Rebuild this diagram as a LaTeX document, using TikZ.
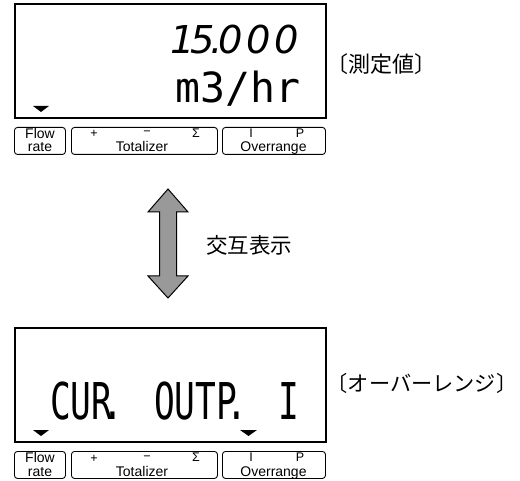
\documentclass[tikz,border=0pt]{standalone}
\usepackage{fontspec}
\setmainfont{Liberation Sans}
\newfontfamily\cjk{Noto Sans CJK JP}
\newfontfamily\lcd{DejaVu Sans Mono}
\newfontfamily\lcdsans{DejaVu Sans}
\tikzset{
  lcdbox/.style={draw, line width=1.8pt, inner sep=0pt, anchor=north west},
  btn/.style={draw, line width=0.9pt, rounded corners=3pt, inner sep=0pt, anchor=north west, minimum height=27pt},
  btnlabel/.style={inner sep=0pt, anchor=base, font=\fontsize{14}{16}\selectfont},
  btnsmall/.style={inner sep=0pt, anchor=base, font=\fontsize{12.5}{14}\selectfont},
  cjklabel/.style={inner sep=0pt, anchor=west, font=\fontsize{22}{26}\cjk},
  lcdtext/.style={inner sep=0pt, anchor=base west},
  marker/.style={fill=black},
  bigarrow/.style={fill=black!40, draw=black, line width=1pt, line join=miter},
}
\newcommand\panelrow[1]{%
  \node[lcdbox, minimum width=311pt, minimum height=114pt] (#1disp) at (14,3) {};
  \fill[marker] (33,106) -- (49,106) -- (41,112) -- cycle;
  \node[btn, minimum width=51pt] (#1flow) at (14,127) {};
  \node[btn, minimum width=146pt] (#1tot) at (71,127) {};
  \node[btn, minimum width=103pt] (#1ovr) at (222,127) {};
  \node[btnlabel] (#1flowa) at (40,138.5) {Flow};
  \node[btnlabel] (#1flowb) at (40,152) {rate};
  \node[btnsmall] (#1plus) at (94,138) {+};
  \node[btnsmall] (#1minus) at (147,136) {−};
  \node[btnsmall] (#1sigma) at (196,137.5) {Σ};
  \node[btnlabel] (#1totl) at (142,152) {Totalizer};
  \node[btnsmall] (#1i) at (251,137.5) {I};
  \node[btnsmall] (#1p) at (300,137.5) {P};
  \node[btnlabel] (#1ovrl) at (273.5,152) {Overrange};
}
\begin{document}
\begin{tikzpicture}[x=1pt,y=-1pt]
\useasboundingbox (0,0) rectangle (520,481);
% top panel
\panelrow{a}
\node[lcdtext] (val) at (170.5,54) {\fontsize{38.4}{40}\lcdsans\itshape 1\kern-4.9pt 5\kern1.6pt\makebox[0pt]{.}\kern2pt 0\kern3.6pt 0\kern3.6pt 0};
\node[lcdtext] (unit) at (175,103) {\fontsize{41.5}{43}\lcd m3/hr};
\node[cjklabel] (lab1) at (326.5,64) {〔測定値〕};
% arrow
\draw[bigarrow] (168,189) -- (188,212) -- (176.5,212) -- (176.5,276) -- (188,276) -- (168,298)
  -- (148,276) -- (159.5,276) -- (159.5,212) -- (148,212) -- cycle;
\node[cjklabel, font=\fontsize{21.5}{25}\cjk] (lab2) at (206,245) {交互表示};
% bottom panel
\begin{scope}[shift={(0,324)}]
\panelrow{b}
\fill[marker] (240,106) -- (257,106) -- (248.5,112) -- cycle;
\node[lcdtext] (msg) at (50,95) {\scalebox{1}[1.47]{\fontsize{34.5}{36}\lcd CUR\makebox[0pt]{.}\hspace*{20.77pt} OUTP\makebox[0pt]{.}\hspace*{20.77pt} I}};
\end{scope}
\node[cjklabel, font=\fontsize{21.2}{25}\cjk] (lab3) at (326.5,383) {〔オーバーレンジ〕};
\end{tikzpicture}
\end{document}
